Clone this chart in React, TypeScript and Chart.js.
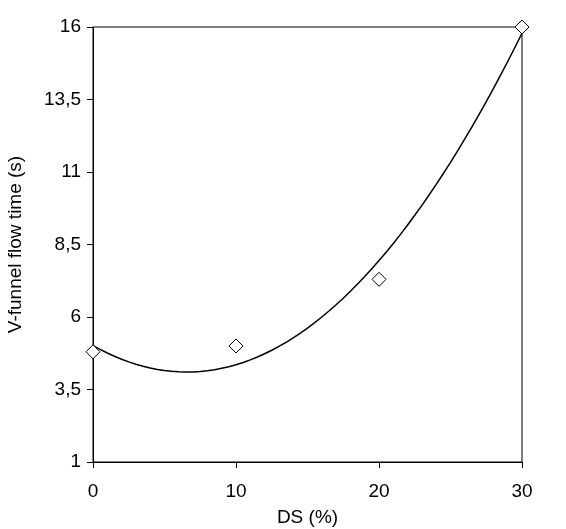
import { useEffect, useRef } from "react"
import { Chart, registerables } from "chart.js"

Chart.register(...registerables)

const dsValues = [0, 10, 20, 30]
const flowTimes = [4.8, 5.0, 7.3, 16]
const yTicks = [1, 3.5, 6, 8.5, 11, 13.5, 16]
const xTicks = [0, 10, 20, 30]

// least squares quadratic trendline from the measured points
function quadFit(xs: number[], ys: number[]) {
  const s = [0, 0, 0, 0, 0]
  const t = [0, 0, 0]
  xs.forEach((x, i) => {
    for (let k = 0; k < 5; k++) s[k] += Math.pow(x, k)
    for (let k = 0; k < 3; k++) t[k] += ys[i] * Math.pow(x, k)
  })
  const m = [
    [s[0], s[1], s[2], t[0]],
    [s[1], s[2], s[3], t[1]],
    [s[2], s[3], s[4], t[2]],
  ]
  for (let i = 0; i < 3; i++) {
    for (let j = i + 1; j < 3; j++) {
      const f = m[j][i] / m[i][i]
      for (let k = i; k < 4; k++) m[j][k] -= f * m[i][k]
    }
  }
  const c = [0, 0, 0]
  for (let i = 2; i >= 0; i--) {
    let v = m[i][3]
    for (let k = i + 1; k < 3; k++) v -= m[i][k] * c[k]
    c[i] = v / m[i][i]
  }
  return (x: number) => c[0] + c[1] * x + c[2] * x * x
}

const frame = {
  id: "frame",
  beforeDatasetsDraw(chart: Chart) {
    const { ctx, chartArea: a } = chart
    ctx.save()
    ctx.strokeStyle = "#000"
    ctx.lineWidth = 1
    ctx.strokeRect(a.left, a.top, a.right - a.left, a.bottom - a.top)
    ctx.restore()
  },
}

const App = () => {
  const canvasRef = useRef<HTMLCanvasElement | null>(null)

  useEffect(() => {
    document.body.style.margin = "0"
    if (!canvasRef.current) return
    const fit = quadFit(dsValues, flowTimes)
    const trend = []
    for (let x = 0; x <= 30; x += 0.5) trend.push({ x, y: fit(x) })

    const font = { family: "Liberation Sans, Arial, sans-serif", size: 19 }
    const chart = new Chart(canvasRef.current, {
      type: "scatter",
      data: {
        datasets: [
          {
            data: dsValues.map((x, i) => ({ x, y: flowTimes[i] })),
            pointStyle: "rectRot",
            pointRadius: 7,
            backgroundColor: "#fff",
            borderColor: "#000",
            borderWidth: 1,
            clip: false,
          },
          {
            data: trend,
            showLine: true,
            pointRadius: 0,
            borderColor: "#000",
            borderWidth: 1.5,
          },
        ],
      },
      options: {
        animation: false,
        responsive: false,
        layout: { padding: { top: 27, right: 44, left: 0, bottom: 0 } },
        plugins: { legend: { display: false }, tooltip: { enabled: false } },
        scales: {
          x: {
            min: 0,
            max: 30,
            afterBuildTicks: (s) => { s.ticks = xTicks.map((v) => ({ value: v })) },
            afterFit: (s) => { s.height = 67 },
            grid: { drawOnChartArea: false, color: "#000", tickLength: 6 },
            border: { color: "#000" },
            ticks: { color: "#000", font, padding: 12 },
            title: { display: true, text: "DS (%)", color: "#000", font, padding: 0 },
          },
          y: {
            min: 1,
            max: 16,
            afterBuildTicks: (s) => { s.ticks = yTicks.map((v) => ({ value: v })) },
            afterFit: (s) => { s.width = 93 },
            grid: { drawOnChartArea: false, color: "#000", tickLength: 6 },
            border: { color: "#000" },
            ticks: { color: "#000", font, padding: 6, callback: (v) => String(v).replace(".", ",") },
            title: { display: true, text: "V-funnel flow time (s)", color: "#000", font, padding: 4 },
          },
        },
      },
      plugins: [frame],
    })
    return () => chart.destroy()
  }, [])

  return <canvas ref={canvasRef} width={566} height={529} style={{ display: "block" }} />
}

export default App
